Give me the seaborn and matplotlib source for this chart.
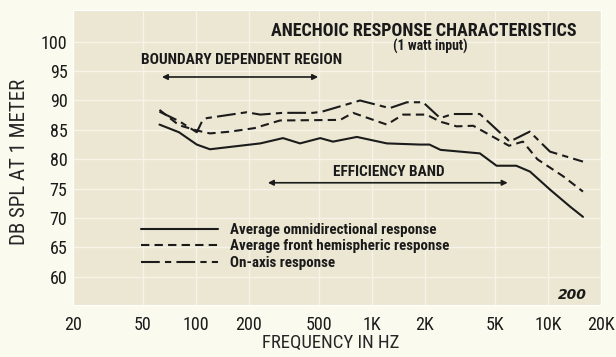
import matplotlib
matplotlib.use("Agg")
import matplotlib.pyplot as plt
from matplotlib.ticker import NullLocator
import seaborn as sns

# Frequency response curves (Hz, dB SPL at 1 m, 1 W input)
freq_omni = [62, 80, 101, 120, 156, 232, 312, 390, 508, 600, 820, 1214, 1875,
             2120, 2450, 4100, 5100, 6600, 7900, 10300, 13400, 15800]
spl_omni = [85.9, 84.6, 82.5, 81.7, 82.1, 82.7, 83.6, 82.7, 83.6, 83.0, 83.8,
            82.7, 82.5, 82.5, 81.6, 81.0, 78.9, 78.9, 77.9, 74.8, 71.9, 70.2]

freq_front = [62, 80, 101, 120, 156, 215, 300, 660, 780, 1214, 1500, 2040,
              2440, 3030, 3760, 6000, 7200, 8700, 12200, 15800]
spl_front = [88.4, 85.8, 84.9, 84.4, 84.7, 85.3, 86.6, 86.7, 87.9, 85.9, 87.6,
             87.6, 86.4, 85.6, 85.7, 82.3, 83.0, 80.0, 77.1, 74.5]

freq_axis = [62, 80, 101, 108, 115, 194, 232, 312, 462, 520, 855, 1260, 1580,
             1950, 2440, 2870, 4100, 6060, 7870, 10260, 15800]
spl_axis = [88.1, 86.5, 84.6, 86.4, 87.0, 88.0, 87.6, 87.9, 87.9, 88.1, 90.0,
            88.7, 89.7, 89.7, 87.0, 87.7, 87.7, 83.0, 84.7, 81.3, 79.6]

series_labels = ["Average omnidirectional response",
                 "Average front hemispheric response",
                 "On-axis response"]

x_ticks = [20, 50, 100, 200, 500, 1000, 2000, 5000, 10000, 20000]
x_tick_labels = ["20", "50", "100", "200", "500", "1K", "2K", "5K", "10K", "20K"]
y_ticks = [60, 65, 70, 75, 80, 85, 90, 95, 100]

# Bands marked with double arrows (Hz range, level in dB)
boundary_band = (64, 494, 94.0)
efficiency_band = (256, 5900, 76.0)

sns.set_style("darkgrid", {"axes.facecolor": "#ebe7d2",
                           "grid.color": "#f6f4e8",
                           "figure.facecolor": "#fbfaef"})
plt.rcParams["font.family"] = ["Roboto Condensed", "DejaVu Sans"]
plt.rcParams["font.stretch"] = "condensed"
plt.rcParams["text.color"] = "#1a1a1a"

W, H = 616, 357
fig = plt.figure(figsize=(W / 100, H / 100), dpi=100)
ax = fig.add_axes([73 / W, 1 - 305 / H, 528 / W, 295 / H])

ink = "#1b1b1b"
sns.lineplot(x=freq_omni, y=spl_omni, ax=ax, color=ink, lw=1.5,
             sort=False, estimator=None, label=series_labels[0])
sns.lineplot(x=freq_front, y=spl_front, ax=ax, color=ink, lw=1.5,
             sort=False, estimator=None, label=series_labels[1])
sns.lineplot(x=freq_axis, y=spl_axis, ax=ax, color=ink, lw=1.5,
             sort=False, estimator=None, label=series_labels[2])
ax.lines[1].set_dashes((4, 2.5))
ax.lines[2].set_dashes((9, 2.5, 3, 2.5))

ax.set_xscale("log")
ax.set_xlim(20, 20000)
ax.set_ylim(55.2, 105.4)
ax.set_xticks(x_ticks)
ax.set_xticklabels(x_tick_labels)
ax.xaxis.set_minor_locator(NullLocator())
ax.set_yticks(y_ticks)
ax.set_yticklabels([str(v) for v in y_ticks])
ax.tick_params(axis="both", length=0, labelsize=13, labelcolor="#1a1a1a")
ax.tick_params(axis="x", pad=8)
ax.tick_params(axis="y", pad=4)
ax.grid(True, lw=1.0)

ax.set_xlabel("FREQUENCY IN HZ", fontsize=13.5)
ax.xaxis.set_label_coords((331 - 73) / 528, (305 - 343) / 295)
ax.xaxis.label.set_va("center")
ax.set_ylabel("DB SPL AT 1 METER", fontsize=15)
ax.yaxis.set_label_coords((20 - 73) / 528, (305 - 162) / 295)
ax.yaxis.label.set_va("center")

leg = ax.legend(loc="upper left", bbox_to_anchor=((141 - 73) / 528, (305 - 223) / 295),
                frameon=False, fontsize=10.8, handlelength=5.1, handletextpad=0.8,
                labelspacing=0.16, borderpad=0, borderaxespad=0)
for t in leg.get_texts():
    t.set_fontweight("bold")

# Titles and band annotations
fig.text(424 / W, 1 - 31 / H, "ANECHOIC RESPONSE CHARACTERISTICS",
         ha="center", va="center", fontsize=13, fontweight="bold")
fig.text(430 / W, 1 - 46 / H, "(1 watt input)",
         ha="center", va="center", fontsize=10, fontweight="bold")
fig.text(242 / W, 1 - 60 / H, "BOUNDARY DEPENDENT REGION",
         ha="center", va="center", fontsize=11.1, fontweight="bold")
fig.text(389 / W, 1 - 172 / H, "EFFICIENCY BAND",
         ha="center", va="center", fontsize=11, fontweight="bold")
fig.text(572 / W, 1 - 295 / H, "200", ha="center", va="center",
         fontsize=10, fontweight="bold", style="italic", family="DejaVu Sans",
         stretch="normal")

for lo, hi, level in (boundary_band, efficiency_band):
    ax.annotate("", xy=(lo, level), xytext=(hi, level),
                arrowprops=dict(arrowstyle="<|-|>", color=ink, lw=1.2,
                                mutation_scale=8, shrinkA=0, shrinkB=0))

fig.savefig("out.png", dpi=100, facecolor=fig.get_facecolor())
